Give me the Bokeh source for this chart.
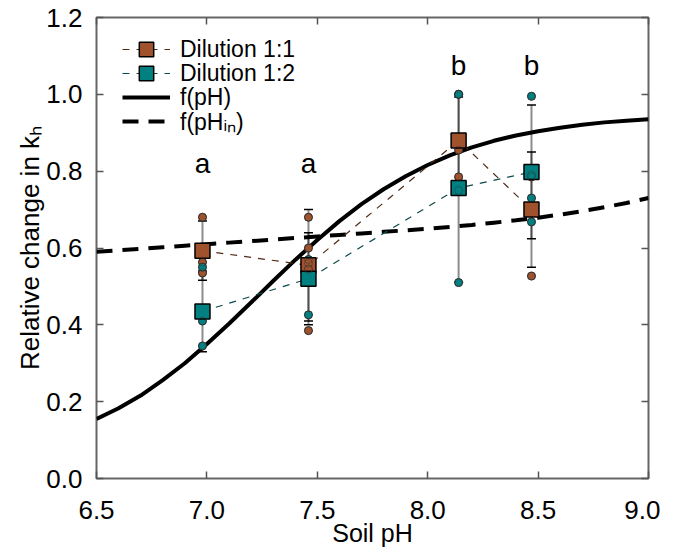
from bokeh.plotting import figure
from bokeh.models import (ColumnDataSource, Whisker, TeeHead, LinearAxis, Legend,
                          LegendItem, FixedTicker, PrintfTickFormatter)
from bokeh.core.properties import value
from bokeh.embed import file_html
from bokeh.resources import INLINE

# ---------------- data ----------------
ph = [6.98, 7.46, 8.14, 8.47]

mean_11 = [0.593, 0.555, 0.880, 0.700]
sd_11 = [0.077, 0.145, 0.113, 0.150]
mean_12 = [0.435, 0.520, 0.756, 0.798]
sd_12 = [0.105, 0.120, 0.245, 0.174]

reps_11 = [[0.68, 0.563, 0.535], [0.68, 0.60, 0.56, 0.545, 0.385],
           [1.0, 0.855, 0.785], [0.79, 0.785, 0.527]]
reps_12 = [[0.55, 0.41, 0.345], [0.57, 0.545, 0.426],
           [1.0, 0.75, 0.51], [0.995, 0.73, 0.668]]

letters = ["a", "a", "b", "b"]
letter_y = [0.82, 0.82, 1.075, 1.075]

curve_ph = [6.5, 6.6, 6.7, 6.8, 6.9, 7.0, 7.1, 7.2, 7.3, 7.4, 7.5, 7.6, 7.7,
            7.8, 7.9, 8.0, 8.1, 8.2, 8.3, 8.4, 8.5, 8.6, 8.7, 8.8, 8.9, 9.0]
f_ph = [0.155, 0.183, 0.216, 0.256, 0.300, 0.350, 0.403, 0.458, 0.514, 0.569,
        0.621, 0.670, 0.714, 0.753, 0.787, 0.816, 0.841, 0.862, 0.879, 0.893,
        0.904, 0.913, 0.921, 0.927, 0.931, 0.935]
f_ph_in = [0.590, 0.594, 0.598, 0.602, 0.606, 0.610, 0.614, 0.618, 0.622, 0.626,
           0.630, 0.634, 0.638, 0.642, 0.646, 0.650, 0.655, 0.660, 0.666, 0.672,
           0.679, 0.687, 0.696, 0.706, 0.717, 0.730]

x_ticks = [6.5, 7.0, 7.5, 8.0, 8.5, 9.0]
y_ticks = [0.0, 0.2, 0.4, 0.6, 0.8, 1.0, 1.2]

# ---------------- styles ----------------
BROWN = "#a0522d"
TEAL = "#008080"
BROWN_LINE = "#4f2a17"
TEAL_LINE = "#0b4a4a"
FONT = "Liberation Sans"

p = figure(x_range=(6.5, 9.0), y_range=(0.0, 1.2),
           width=660, height=549,
           min_border_left=96, min_border_right=12, min_border_top=17,
           min_border_bottom=70,
           output_backend="svg", toolbar_location=None)
p.background_fill_color = "white"
p.border_fill_color = "white"
p.grid.visible = False
p.outline_line_color = "#666666"
p.outline_line_width = 2

def style_axis(ax, ticks):
    ax.ticker = FixedTicker(ticks=ticks)
    ax.formatter = PrintfTickFormatter(format="%.1f")
    ax.major_tick_in = 7
    ax.major_tick_out = 0
    ax.major_tick_line_color = "#555555"
    ax.major_tick_line_width = 1.5
    ax.minor_tick_line_color = None
    ax.axis_line_color = None
    ax.major_label_text_font = FONT
    ax.major_label_text_font_size = "26px"
    ax.major_label_text_color = "black"
    ax.axis_label_text_font = FONT
    ax.axis_label_text_font_size = "26px"
    ax.axis_label_text_font_style = "normal"
    ax.axis_label_text_color = "black"

style_axis(p.xaxis[0], x_ticks)
style_axis(p.yaxis[0], y_ticks)
p.xaxis[0].axis_label = "Soil pH"
p.xaxis[0].axis_label_text_font_size = "25px"
p.xaxis[0].major_label_standoff = 22
p.xaxis[0].axis_label_standoff = -3
p.yaxis[0].axis_label = "Relative change in k\u2095"
p.yaxis[0].major_label_standoff = 14
p.yaxis[0].axis_label_standoff = -2

top_ax = LinearAxis()
style_axis(top_ax, x_ticks)
top_ax.major_label_overrides = {t: "" for t in x_ticks}
top_ax.major_label_standoff = 0
right_ax = LinearAxis()
style_axis(right_ax, y_ticks)
right_ax.major_label_overrides = {t: "" for t in y_ticks}
right_ax.major_label_standoff = 0
p.add_layout(top_ax, "above")
p.add_layout(right_ax, "right")

# curves
r_fph = p.line(curve_ph, f_ph, line_color="black", line_width=4)
r_fphin = p.line(curve_ph, f_ph_in, line_color="black", line_width=4,
                 line_dash="16 10")

# error bars (semi-transparent so overlaps look darker)
def whisker(mean, sd):
    src = ColumnDataSource(dict(x=ph,
                                upper=[m + s for m, s in zip(mean, sd)],
                                lower=[m - s for m, s in zip(mean, sd)]))
    w = Whisker(source=src, base="x", upper="upper", lower="lower",
                line_color="black", line_alpha=0.45, line_width=2,
                upper_head=TeeHead(size=9, line_color="black", line_width=1.5),
                lower_head=TeeHead(size=9, line_color="black", line_width=1.5))
    p.add_layout(w)

whisker(mean_11, sd_11)
whisker(mean_12, sd_12)

# connecting dashed lines
r_l11 = p.line(ph, mean_11, line_color=BROWN_LINE, line_width=1.2, line_dash="7 7")
r_l12 = p.line(ph, mean_12, line_color=TEAL_LINE, line_width=1.2, line_dash="7 7")

# replicate circles (filled, below squares)
def flat(reps):
    xs, ys = [], []
    for x, vals in zip(ph, reps):
        for v in vals:
            xs.append(x)
            ys.append(v)
    return xs, ys

rx11, ry11 = flat(reps_11)
rx12, ry12 = flat(reps_12)
p.scatter(rx11, ry11, marker="circle", size=8, fill_color=BROWN,
          line_color="#333333", line_width=1)
p.scatter(rx12, ry12, marker="circle", size=8, fill_color=TEAL,
          line_color="#333333", line_width=1)

# mean squares
r_s11 = p.scatter(ph, mean_11, marker="square", size=15, fill_color=BROWN,
                  line_color="black", line_width=1.5)
r_s12 = p.scatter(ph, mean_12, marker="square", size=15, fill_color=TEAL,
                  line_color="black", line_width=1.5)

# replicate outlines on top
p.scatter(rx11, ry11, marker="circle", size=8, fill_color=None,
          line_color="#333333", line_width=0.8, line_alpha=0.6)
p.scatter(rx12, ry12, marker="circle", size=8, fill_color=None,
          line_color="#333333", line_width=0.8, line_alpha=0.6)

# significance letters
p.text(x=ph, y=letter_y, text=letters, text_align="center",
       text_baseline="alphabetic", text_font=value(FONT),
       text_font_size="28px", text_color="black")

# legend: one single-entry legend per row for even row spacing
legend_rows = [
    ("Dilution 1:1", [r_l11, r_s11], 36, 411),
    ("Dilution 1:2", [r_l12, r_s12], 36, 387),
    ("f(pH)", [r_fph], 44, 359),
    ("f(pH\u1d62\u2099)", [r_fphin], 44, 335),
]
for label, rends, h, vy in legend_rows:
    lg = Legend(items=[LegendItem(label=label, renderers=rends)],
                location=(26, vy))
    lg.border_line_color = None
    lg.background_fill_alpha = 0
    lg.label_text_font = FONT
    lg.label_text_font_size = "23px"
    lg.label_text_color = "black"
    lg.glyph_width = 48
    lg.glyph_height = h
    lg.label_height = h
    lg.spacing = 0
    lg.margin = 0
    lg.padding = 0
    lg.label_standoff = 10
    p.add_layout(lg)

open("out.html", "w").write(file_html(p, INLINE))
